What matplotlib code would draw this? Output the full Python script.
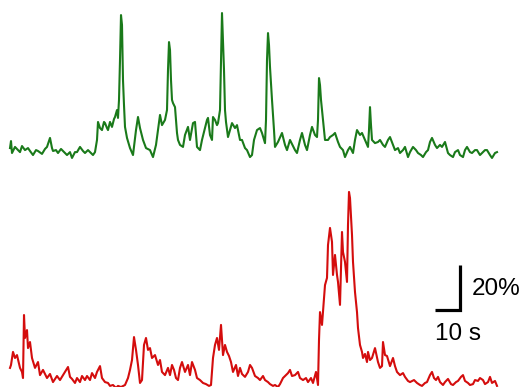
import matplotlib
matplotlib.use("Agg")
import matplotlib.pyplot as plt

# Green trace: time (s), dF/F (%)
green_t = [0, 0.4, 0.8, 2.0, 3.2, 4.0, 4.8, 6.0, 7.2, 8.0, 9.2, 10.4, 11.2, 12.8, 14.0, 14.8,
           16.0, 16.8, 17.2, 18.4, 19.2, 20.4, 21.2, 22.8, 24.0, 24.8, 26.0, 26.8, 28.0, 29.2,
           30.0, 31.2, 32.0, 33.2, 34.0, 34.8, 35.2, 36.0, 36.8, 37.6, 38.0, 38.8, 39.2, 40.0,
           40.8, 41.6, 42.0, 42.8, 43.2, 43.6, 44.0, 44.4, 44.8, 45.2, 45.6, 46.0, 46.8, 48.0,
           49.2, 50.4, 51.2, 52.0, 53.2, 54.4, 56.0, 57.2, 58.4, 59.2, 60.0, 60.8, 62.0, 62.8,
           63.2, 63.6, 64.0, 64.4, 64.8, 65.2, 66.0, 66.8, 67.2, 68.0, 69.2, 70.0, 71.2, 72.0,
           73.2, 74.0, 74.8, 76.0, 76.8, 78.0, 78.8, 79.2, 80.0, 80.8, 81.2, 82.0, 82.8, 83.2,
           84.0, 84.4, 84.8, 85.2, 85.6, 86.0, 86.4, 87.2, 88.0, 88.8, 90.0, 90.8, 91.2, 92.0,
           92.8, 94.0, 94.8, 96.0, 96.8, 97.6, 98.8, 100.0, 100.8, 102.0, 102.4, 102.8, 103.2,
           103.6, 104.0, 104.8, 105.6, 106.0, 107.2, 108.8, 110.0, 110.8, 112.0, 112.8, 114.0,
           114.8, 116.0, 116.8, 118.0, 118.8, 120.0, 120.8, 122.0, 122.8, 123.2, 123.6, 124.0,
           124.4, 124.8, 125.6, 126.0, 127.2, 128.0, 129.2, 130.0, 131.2, 132.0, 133.2, 134.0,
           135.2, 136.0, 137.2, 138.0, 138.8, 140.0, 140.8, 142.0, 143.2, 143.6, 144.0, 144.4,
           144.8, 146.0, 147.2, 148.0, 149.2, 150.0, 151.2, 152.0, 153.2, 154.0, 155.2, 156.0,
           157.2, 158.0, 159.2, 160.0, 161.2, 162.4, 163.2, 164.4, 165.2, 166.4, 167.2, 168.0,
           168.8, 170.0, 170.8, 172.0, 172.8, 174.0, 175.2, 176.0, 177.2, 178.0, 179.2, 180.0,
           181.2, 182.0, 182.8, 184.0, 184.8, 186.0, 186.8, 188.0, 188.8, 190.0, 190.8, 192.0,
           192.8, 194.0, 194.8]
green_v = [2.2, 5.3, 0, 2.7, 1.3, 0.4, 3.1, 1.3, 2.2, 0.9, -0.9, 1.3, 0.9, -0.4, 1.8, 2.7,
           6.7, 2.2, 0.9, 1.3, 0, 1.8, 0.9, -0.9, 0.4, -2.2, 0.4, 0.4, 2.7, 0.9,
           0, 1.3, 0.4, -0.9, 0.4, 5.8, 13.8, 11.1, 10.2, 13.8, 13.3, 11.1, 10.2, 13.8,
           11.6, 15.1, 16.0, 19.1, 15.6, 23.6, 41.3, 61.3, 56.9, 32.4, 21.3, 11.6, 6.7, 2.2,
           -0.9, 10.2, 16.0, 11.1, 5.8, 2.2, 1.3, -1.8, 3.6, 10.2, 16.9, 12.4, 14.7, 19.1,
           36.9, 49.3, 45.8, 32.4, 23.6, 22.2, 20.4, 8.9, 5.8, 3.6, 2.7, 8.0, 11.6, 5.8,
           13.3, 13.8, 2.7, 1.3, 5.8, 11.1, 14.7, 15.6, 8.0, 5.8, 16.0, 14.7, 12.4, 13.3,
           19.1, 41.3, 62.2, 50.2, 36.9, 19.1, 13.8, 7.1, 10.2, 13.3, 11.1, 12.4, 10.2, 5.8,
           5.8, 2.2, 1.3, -1.8, -0.9, 5.8, 10.2, 11.1, 8.9, 4.4, 14.7, 41.3, 53.3,
           48.0, 38.2, 23.6, 10.2, 2.7, 4.9, 8.9, 3.6, 1.3, 5.8, 4.0, 1.3,
           0, 5.8, 8.9, 3.6, 1.3, 8.0, 11.6, 8.0, 7.1, 14.7, 33.3, 30.2,
           23.6, 19.1, 10.2, 5.8, 5.8, 7.1, 8.0, 8.9, 4.9, 2.7, 1.3, -1.8,
           1.3, 2.7, 0, 5.8, 10.2, 8.0, 8.9, 5.8, 2.7, 10.2, 20.4, 12.4,
           5.8, 4.4, 4.9, 5.8, 3.6, 2.7, 5.8, 7.1, 3.6, 1.3, 2.2, 0,
           1.3, 2.7, -1.8, 0.4, 2.7, 1.3, 0, -0.9, -1.8, 0.4, 1.3, 4.9,
           6.7, 3.6, 2.2, 3.6, 2.7, 4.9, 0, -0.9, -1.8, 0.4, 1.3, -0.9,
           -1.8, 1.3, 2.7, 0.4, 0, 1.3, 1.3, -0.9, 0, 1.3, 1.3, -0.9,
           -2.2, 0, 0.4]

# Red trace: time (s), dF/F (%)
red_t = [0, 0.4, 1.2, 2.0, 2.8, 4.0, 4.8, 5.2, 5.6, 6.0, 6.8, 7.2, 8.0, 8.8, 10.0, 11.2,
         12.0, 13.2, 14.8, 16.0, 17.2, 18.8, 20.0, 21.2, 22.0, 23.2, 24.0, 24.8, 26.0, 26.8,
         28.0, 28.8, 30.0, 30.8, 32.0, 32.8, 34.0, 34.8, 36.0, 36.8, 38.0, 39.2, 40.0, 41.2,
         42.4, 43.2, 44.4, 46.0, 47.2, 48.0, 48.8, 49.6, 50.4, 51.2, 52.0, 52.8, 53.6, 54.4,
         55.2, 56.0, 56.8, 58.0, 59.2, 60.0, 60.8, 62.0, 63.2, 64.0, 64.8, 65.6, 66.4, 67.2,
         68.0, 68.8, 70.0, 71.2, 72.0, 72.8, 74.0, 74.8, 76.0, 77.2, 78.4, 79.6, 80.4, 81.2,
         82.0, 82.8, 83.6, 84.4, 85.2, 86.0, 86.8, 87.6, 88.4, 89.2, 90.4, 91.2, 92.0, 92.8,
         94.0, 95.2, 96.0, 96.8, 98.0, 99.2, 100.0, 101.2, 102.0, 103.2, 104.0, 105.2, 106.0,
         107.2, 108.0, 109.2, 110.0, 111.2, 112.0, 112.8, 114.0, 115.2, 116.0, 117.2, 118.4,
         119.2, 120.4, 121.2, 122.4, 123.2, 123.6, 124.0, 124.8, 125.2, 126.0, 126.8, 127.2,
         128.0, 128.8, 129.2, 130.0, 130.8, 131.2, 132.0, 132.8, 133.2, 134.0, 134.8, 135.2,
         135.6, 136.0, 136.8, 137.2, 138.0, 138.8, 139.2, 140.0, 140.8, 141.2, 142.0, 142.8,
         143.2, 144.0, 144.8, 146.0, 147.2, 148.0, 148.8, 149.2, 150.0, 150.8, 152.0, 153.2,
         154.0, 154.8, 156.0, 157.2, 158.0, 159.2, 160.0, 161.6, 162.8, 164.0, 164.8, 166.0,
         166.8, 168.0, 168.8, 169.6, 170.4, 171.2, 172.0, 173.2, 174.0, 175.2, 176.4, 177.2,
         178.4, 179.2, 180.4, 181.2, 182.0, 183.2, 184.0, 185.2, 186.0, 187.2, 188.0, 189.2,
         190.0, 191.2, 192.0, 192.8, 194.0, 194.8]
red_v = [7.6, 8.9, 14.7, 12.0, 13.3, 7.6, 5.8, 3.1, 31.1, 20.9, 24.4, 16.4, 19.1, 12.0, 7.6, 10.2,
         4.4, 6.7, 3.1, 4.9, 1.3, 4.0, 2.2, 4.4, 5.8, 8.0, 3.6, 2.7, 0.9, 3.1,
         1.3, 4.0, 2.2, 4.0, 2.2, 5.3, 3.1, 5.8, 8.4, 3.1, 1.3, 0.9, -0.4, 0,
         -1.3, -0.4, -0.9, 0, 3.1, 6.7, 11.1, 21.3, 15.6, 8.9, 0.9, 2.2, 17.8, 20.9,
         15.6, 16.4, 12.0, 13.3, 8.9, 11.1, 5.8, 4.4, 7.6, 4.4, 8.9, 6.7, 3.1, 2.2,
         7.6, 10.2, 5.8, 8.9, 4.4, 10.2, 6.7, 3.1, 2.2, 0.9, 0.4, -0.4, 0, 12.0,
         17.8, 20.9, 15.6, 26.7, 13.3, 17.8, 14.7, 12.9, 10.2, 5.8, 8.9, 4.0, 7.6, 4.9,
         3.6, 5.8, 8.9, 7.6, 4.0, 3.1, 2.2, 4.0, 2.2, 1.3, 0.4, -0.4, 0,
         -0.9, 0.4, 3.1, 4.0, 5.3, 6.7, 4.0, 4.4, 5.8, 3.1, 2.2, 3.1,
         1.3, 3.1, 0.9, 5.8, 0, 20.0, 32.4, 26.7, 32.4, 44.4, 47.6, 62.2,
         69.8, 63.6, 48.9, 57.8, 48.9, 45.8, 35.6, 68.0, 59.1, 54.7, 45.8, 71.1,
         85.8, 83.1, 66.7, 54.7, 41.3, 32.4, 25.3, 17.8, 14.7, 12.0, 13.8, 10.2,
         14.7, 11.1, 12.0, 16.4, 10.2, 7.6, 8.4, 19.1, 13.3, 12.9, 8.4, 12.0,
         8.4, 5.8, 4.4, 5.3, 3.6, 1.8, 1.3, 2.2, 0.9, 0, -0.4, 0.9,
         1.3, 4.4, 5.8, 3.1, 2.2, 3.6, 1.3, 0, 1.3, 2.7, 0.4, 0,
         1.3, 1.8, 3.6, 4.4, 1.8, 0.9, 0, 0.4, 2.2, 1.8, 3.1, 2.2,
         0.4, 1.3, 3.6, 0.9, 1.8, -0.4]

green_offset = 103.1   # vertical offset of the green trace (%)
bar_t = [170, 180]     # 10 s scale bar
bar_v = [33.3, 53.3]   # 20 % scale bar

fig = plt.figure(figsize=(5.25, 3.87), dpi=100)
ax = fig.add_axes([0, 0, 1, 1])
ax.set_xlim(-4, 206)
ax.set_ylim(-0.89, 171.1)
ax.axis("off")

ax.plot(green_t, [v + green_offset for v in green_v], color="#1a7a1a", lw=1.5,
        solid_joinstyle="round")
ax.plot(red_t, red_v, color="#d40d0d", lw=1.5, solid_joinstyle="round")

ax.plot([bar_t[0], bar_t[1], bar_t[1]], [bar_v[0], bar_v[0], bar_v[1]],
        color="black", lw=2.3, solid_capstyle="butt", solid_joinstyle="miter")
ax.text(184.8, 42.7, "20%", fontsize=17.5, family="Liberation Sans",
        ha="left", va="center")
ax.text(179.0, 22.6, "10 s", fontsize=17.5, family="Liberation Sans",
        ha="center", va="center")

fig.savefig("out.png", dpi=100)
